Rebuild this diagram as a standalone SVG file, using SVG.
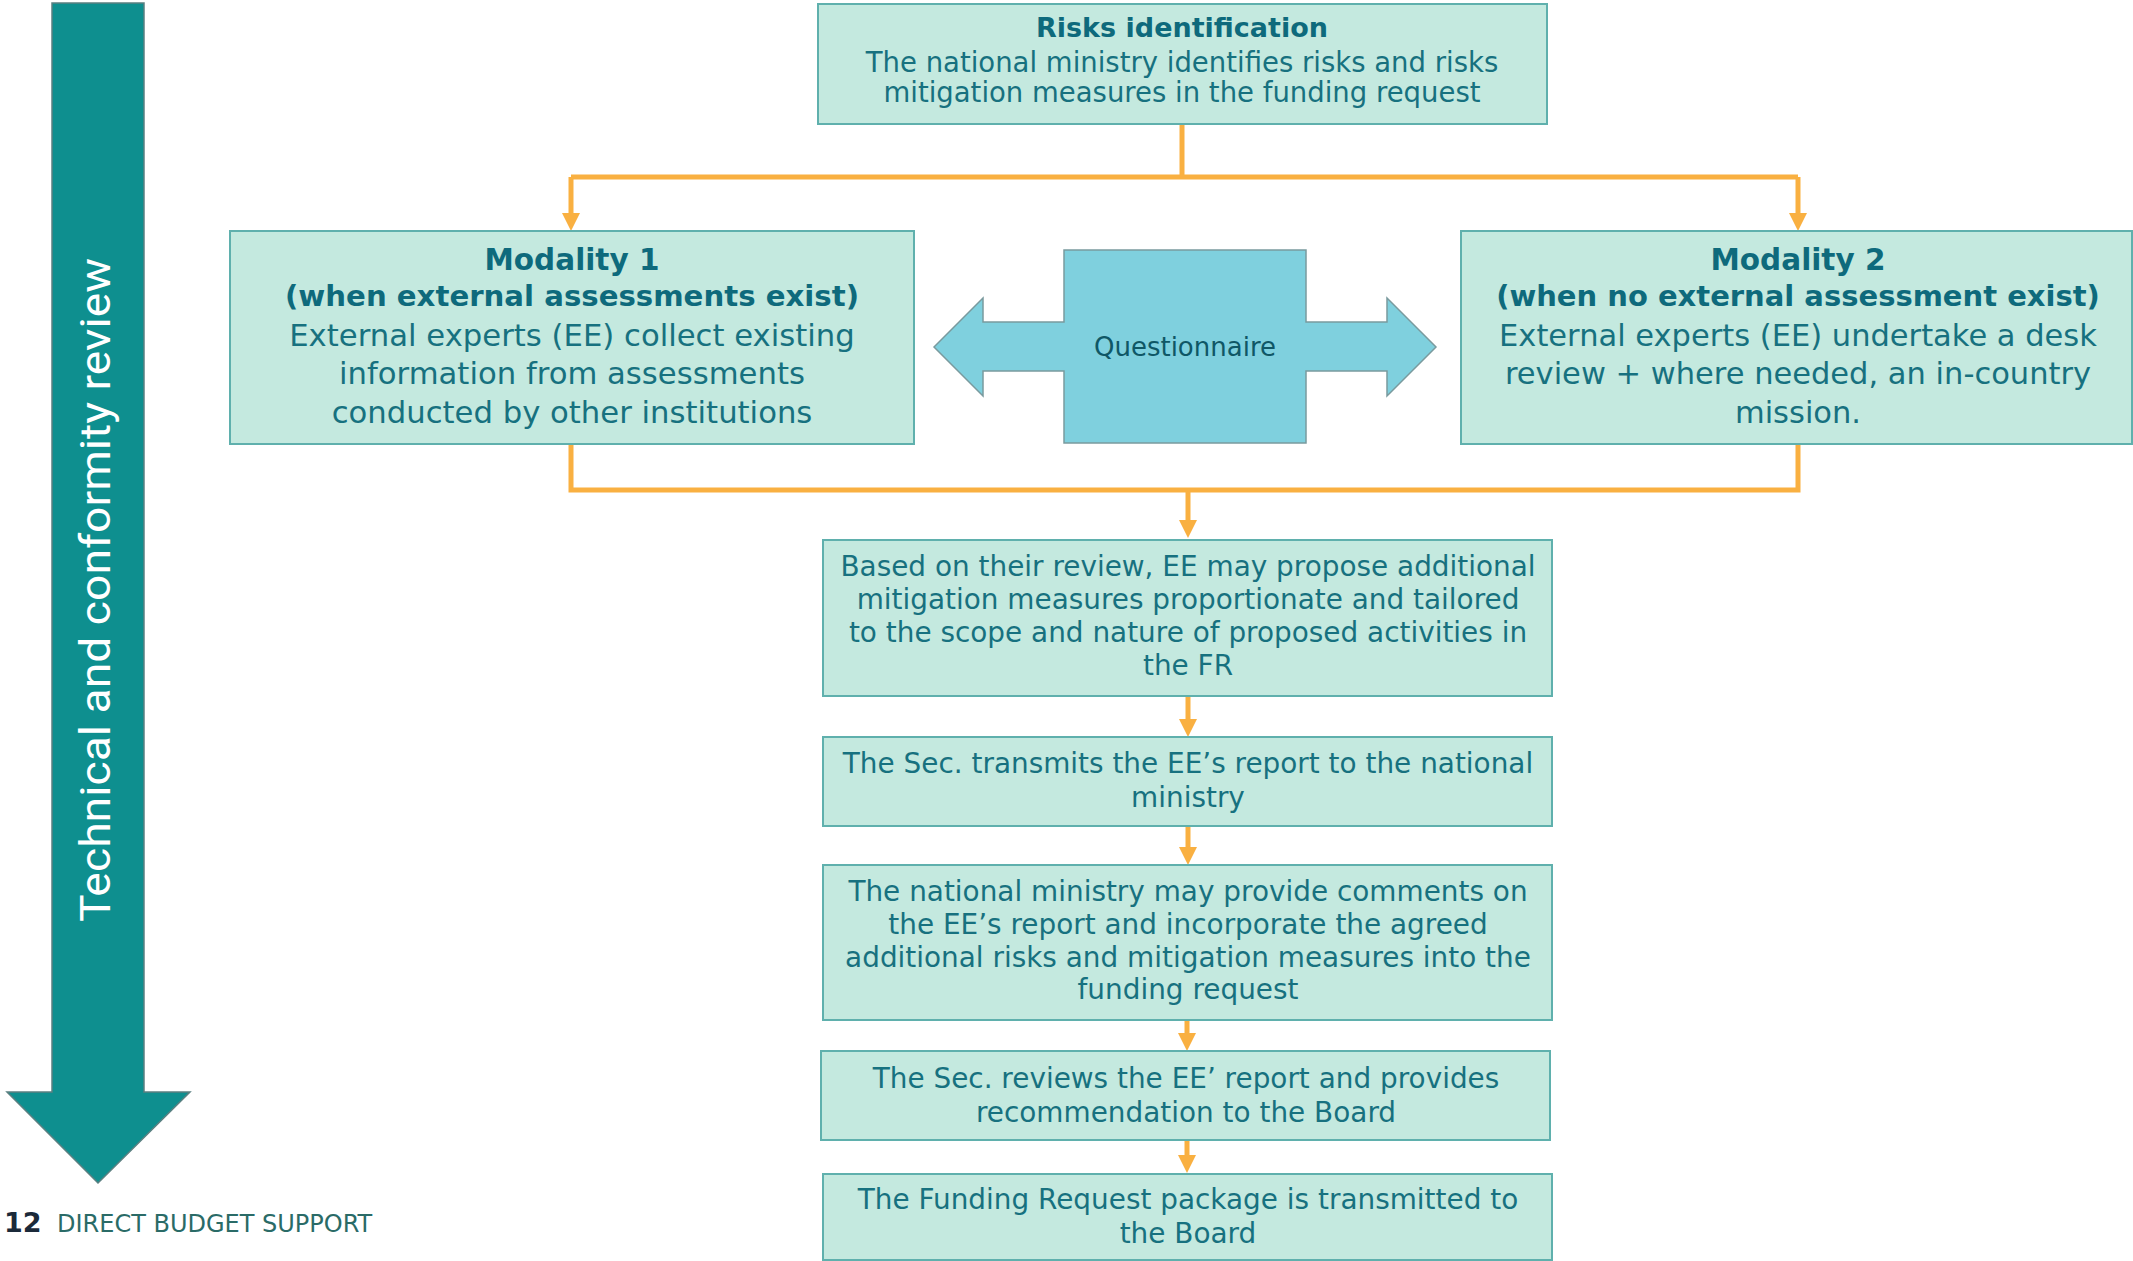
<svg xmlns="http://www.w3.org/2000/svg" width="2133" height="1261" viewBox="0 0 2133 1261">
<style>
.box{fill:#c4e9df;stroke:#5fb0ad;stroke-width:2}
.t{font-family:"DejaVu Sans","Open Sans",sans-serif;fill:#17717f;text-anchor:middle}
.b{font-weight:bold;fill:#0e6a7c}
.s{font-size:27.9px}
.con{fill:none;stroke:#f9b041;stroke-width:5}
</style>
<defs>
<marker id="ah" viewBox="0 0 18 18" markerWidth="18" markerHeight="18" refX="8" refY="9" orient="auto" markerUnits="userSpaceOnUse">
<path d="M0,0 L18,9 L0,18 z" fill="#f9b041"/>
</marker>
</defs>
<rect width="2133" height="1261" fill="#ffffff"/>

<g id="review-arrow">
<polygon points="52,3 144,3 144,1092 190,1092 98,1183 7,1092 52,1092" fill="#0e8f8f" stroke="#5b8081" stroke-width="1.5"/>
<text transform="translate(110,590) rotate(-90)" font-family="Roboto,'Liberation Sans',sans-serif" font-size="42" fill="#ffffff" text-anchor="middle" textLength="664" lengthAdjust="spacingAndGlyphs">Technical and conformity review</text>
</g>

<g id="connectors">
<path class="con" d="M1182,124 V177 M571,177 H1798"/>
<path class="con" d="M571,177 V221" marker-end="url(#ah)"/>
<path class="con" d="M1798,177 V221" marker-end="url(#ah)"/>
<path class="con" d="M571,444 V490 H1798 V444"/>
<path class="con" d="M1188,490 V528" marker-end="url(#ah)"/>
<path class="con" d="M1188,696 V727" marker-end="url(#ah)"/>
<path class="con" d="M1188,826 V855" marker-end="url(#ah)"/>
<path class="con" d="M1187,1020 V1041" marker-end="url(#ah)"/>
<path class="con" d="M1187,1140 V1163" marker-end="url(#ah)"/>
</g>

<g id="risks-identification">
<rect class="box" x="818" y="4" width="729" height="120"/>
<text class="t b" x="1182" y="37" font-size="27">Risks identification</text>
<text class="t" x="1182" y="72" font-size="27.5">The national ministry identifies risks and risks</text>
<text class="t" x="1182" y="102" font-size="27.5">mitigation measures in the funding request</text>
</g>

<g id="modality-1">
<rect class="box" x="230" y="231" width="684" height="213"/>
<text class="t b" x="572" y="270" font-size="29.5">Modality 1</text>
<text class="t b" x="572" y="306" font-size="29.2">(when external assessments exist)</text>
<text class="t" x="572" y="346" font-size="30.7">External experts (EE) collect existing</text>
<text class="t" x="572" y="384" font-size="30.7">information from assessments</text>
<text class="t" x="572" y="423" font-size="30.7">conducted by other institutions</text>
</g>

<g id="questionnaire">
<polygon points="934,347 983,298 983,322 1064,322 1064,250 1306,250 1306,322 1387,322 1387,298 1436,347 1387,396 1387,371 1306,371 1306,443 1064,443 1064,371 983,371 983,396" fill="#7fd0de" stroke="#7a9a9e" stroke-width="1.5"/>
<text class="t" x="1185" y="356" font-size="26" style="fill:#0f5766">Questionnaire</text>
</g>

<g id="modality-2">
<rect class="box" x="1461" y="231" width="671" height="213"/>
<text class="t b" x="1798" y="270" font-size="29.5">Modality 2</text>
<text class="t b" x="1798" y="306" font-size="29">(when no external assessment exist)</text>
<text class="t" x="1798" y="346" font-size="30.5">External experts (EE) undertake a desk</text>
<text class="t" x="1798" y="384" font-size="30.5">review + where needed, an in-country</text>
<text class="t" x="1798" y="423" font-size="30.5">mission.</text>
</g>

<g id="ee-proposal">
<rect class="box" x="823" y="540" width="729" height="156"/>
<text class="t s" x="1188" y="576">Based on their review, EE may propose additional</text>
<text class="t s" x="1188" y="609">mitigation measures proportionate and tailored</text>
<text class="t s" x="1188" y="642">to the scope and nature of proposed activities in</text>
<text class="t s" x="1188" y="675">the FR</text>
</g>

<g id="sec-transmits">
<rect class="box" x="823" y="737" width="729" height="89"/>
<text class="t s" x="1188" y="773">The Sec. transmits the EE’s report to the national</text>
<text class="t s" x="1188" y="807">ministry</text>
</g>

<g id="ministry-comments">
<rect class="box" x="823" y="865" width="729" height="155"/>
<text class="t s" x="1188" y="901">The national ministry may provide comments on</text>
<text class="t s" x="1188" y="934">the EE’s report and incorporate the agreed</text>
<text class="t s" x="1188" y="967">additional risks and mitigation measures into the</text>
<text class="t s" x="1188" y="999">funding request</text>
</g>

<g id="sec-reviews">
<rect class="box" x="821" y="1051" width="729" height="89"/>
<text class="t s" x="1186" y="1088">The Sec. reviews the EE’ report and provides</text>
<text class="t s" x="1186" y="1122">recommendation to the Board</text>
</g>

<g id="fr-transmitted">
<rect class="box" x="823" y="1174" width="729" height="86"/>
<text class="t s" x="1188" y="1209">The Funding Request package is transmitted to</text>
<text class="t s" x="1188" y="1243">the Board</text>
</g>

<g id="footer">
<text x="4" y="1232" font-family="'DejaVu Sans','Liberation Sans',sans-serif" font-size="27" font-weight="bold" fill="#1b2a3a">12</text>
<text x="57" y="1232" font-family="'DejaVu Sans','Liberation Sans',sans-serif" font-size="24" fill="#2a6b67">DIRECT BUDGET SUPPORT</text>
</g>
</svg>
